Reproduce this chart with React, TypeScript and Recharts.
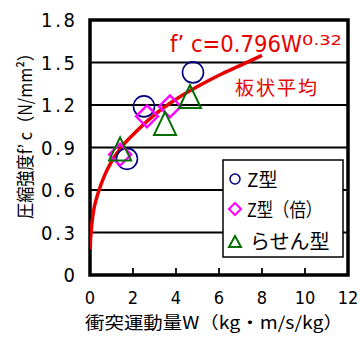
import React from 'react';
import {
  ComposedChart,
  Line,
  Scatter,
  XAxis,
  YAxis,
  CartesianGrid,
  ReferenceArea,
} from 'recharts';

const xTicks = [0, 2, 4, 6, 8, 10, 12];
const yTicks = [0, 0.3, 0.6, 0.9, 1.2, 1.5, 1.8];

// measured points
const zType = [
  { x: 1.72, y: 0.82 },
  { x: 2.51, y: 1.19 },
  { x: 4.79, y: 1.43 },
];
const zDouble = [
  { x: 1.4, y: 0.85 },
  { x: 2.65, y: 1.12 },
  { x: 3.72, y: 1.19 },
];
const spiral = [
  { x: 1.4, y: 0.89 },
  { x: 3.49, y: 1.07 },
  { x: 4.65, y: 1.26 },
];

// fitted curve f'c = 0.796 W^0.32
const fitCurve = [
  { x: 0.01, y: 0.18 },
  { x: 0.02, y: 0.23 },
  { x: 0.05, y: 0.3 },
  { x: 0.1, y: 0.38 },
  { x: 0.2, y: 0.48 },
  { x: 0.3, y: 0.54 },
  { x: 0.4, y: 0.59 },
  { x: 0.7, y: 0.71 },
  { x: 1, y: 0.8 },
  { x: 1.5, y: 0.91 },
  { x: 2, y: 0.99 },
  { x: 3, y: 1.13 },
  { x: 4, y: 1.24 },
  { x: 5, y: 1.33 },
  { x: 6, y: 1.41 },
  { x: 7, y: 1.48 },
  { x: 8, y: 1.55 },
];

const NAVY = '#00007f';
const MAGENTA = '#ff00ff';
const GREEN = '#006f00';
const RED = '#e60000';
const NUM_FONT = '"Liberation Sans Narrow", "DejaVu Sans Condensed", "Liberation Sans", sans-serif';
const JP_FONT = '"Noto Sans CJK JP", sans-serif';

const CircleShape = (props: any) => (
  <circle cx={props.cx} cy={props.cy} r={10.5} fill="none" stroke={NAVY} strokeWidth={1.6} />
);

const DiamondShape = (props: any) => {
  const { cx, cy } = props;
  const d = 11;
  return (
    <polygon
      points={`${cx},${cy - d} ${cx + d},${cy} ${cx},${cy + d} ${cx - d},${cy}`}
      fill="none"
      stroke={MAGENTA}
      strokeWidth={2.4}
    />
  );
};

const TriangleShape = (props: any) => {
  const { cx, cy } = props;
  return (
    <polygon
      points={`${cx},${cy - 11.5} ${cx + 11},${cy + 11.5} ${cx - 11},${cy + 11.5}`}
      fill="none"
      stroke={GREEN}
      strokeWidth={2}
    />
  );
};

const XTick = (props: any) => {
  const { x, payload } = props;
  return (
    <text x={x} y={304} textAnchor="middle" fontFamily={NUM_FONT} fontSize={18} fill="#000">
      {payload.value}
    </text>
  );
};

const YTick = (props: any) => {
  const { y, payload } = props;
  if (payload.value === 0) {
    return (
      <text x={75} y={y + 7} textAnchor="end" fontFamily={NUM_FONT} fontSize={20} fill="#000">
        0
      </text>
    );
  }
  return (
    <text
      x={75}
      y={y + 7}
      textAnchor="end"
      fontFamily={NUM_FONT}
      fontSize={20}
      fill="#000"
      textLength={34}
      lengthAdjust="spacing"
    >
      {payload.value.toFixed(1)}
    </text>
  );
};

export default function App() {
  return (
    <div style={{ position: 'absolute', left: 0, top: 0, width: 360, height: 345, background: '#fff' }}>
      <ComposedChart width={360} height={345} margin={{ top: 20, right: 12, left: 30, bottom: 40 }}>
        <CartesianGrid horizontal vertical={false} stroke="#000" strokeWidth={1.8} horizontalValues={[0.3, 0.6, 0.9, 1.2, 1.5]} />
        <XAxis
          type="number"
          dataKey="x"
          domain={[0, 12]}
          ticks={xTicks}
          axisLine={false}
          tickSize={-7}
          tickLine={{ stroke: '#000', strokeWidth: 1.8 }}
          tick={<XTick />}
          height={30}
          allowDataOverflow
        />
        <YAxis
          type="number"
          dataKey="y"
          domain={[0, 1.8]}
          ticks={yTicks}
          axisLine={false}
          tickLine={false}
          tick={<YTick />}
          width={60}
          allowDataOverflow
        />
        <ReferenceArea
          x1={0}
          x2={12}
          y1={0}
          y2={1.8}
          ifOverflow="visible"
          fill="none"
          stroke="#000"
          strokeWidth={3.5}
          fillOpacity={0}
        />
        <Scatter data={zType} dataKey="y" shape={<CircleShape />} isAnimationActive={false} />
        <Scatter data={zDouble} dataKey="y" shape={<DiamondShape />} isAnimationActive={false} />
        <Scatter data={spiral} dataKey="y" shape={<TriangleShape />} isAnimationActive={false} />
        <Line
          data={fitCurve}
          dataKey="y"
          type="monotone"
          stroke={RED}
          strokeWidth={3.5}
          dot={false}
          activeDot={false}
          isAnimationActive={false}
        />
      </ComposedChart>
      <svg width={360} height={345} style={{ position: 'absolute', left: 0, top: 0, pointerEvents: 'none' }}>
        {/* fitted formula */}
        <text x={170} y={52} fontFamily={NUM_FONT} fontSize={23} fill={RED} textLength={132} lengthAdjust="spacingAndGlyphs">
          f’ c=0.796W
        </text>
        <text x={302} y={45} fontFamily={NUM_FONT} fontSize={14} fill={RED} textLength={40} lengthAdjust="spacingAndGlyphs">
          0.32
        </text>
        <text x={235} y={95} fontFamily={JP_FONT} fontSize={19} fill={RED} textLength={82}>
          板状平均
        </text>
        {/* legend */}
        <rect x={223} y={160} width={120} height={97} fill="#fff" stroke="#000" strokeWidth={1.5} />
        <circle cx={235} cy={179} r={5} fill="none" stroke={NAVY} strokeWidth={1.5} />
        <text x={247} y={187} fontFamily={JP_FONT} fontSize={19} fill="#000">Z型</text>
        <polygon points="235,203 241,209 235,215 229,209" fill="none" stroke={MAGENTA} strokeWidth={2} />
        <text x={247} y={217} fontFamily={JP_FONT} fontSize={19} fill="#000" textLength={75} lengthAdjust="spacingAndGlyphs">Z型（倍）</text>
        <polygon points="235,236 241,247 229,247" fill="none" stroke={GREEN} strokeWidth={2} />
        <text x={250} y={249} fontFamily={JP_FONT} fontSize={20} fill="#000">らせん型</text>
        {/* axis titles */}
        <text x={85} y={329} fontFamily={JP_FONT} fontSize={17} fill="#000" textLength={258} lengthAdjust="spacingAndGlyphs">
          衝突運動量W（kg・m/s/kg）
        </text>
        <text
          x={0}
          y={0}
          transform="translate(32,132) rotate(-90)"
          textAnchor="middle"
          fontFamily={JP_FONT}
          fontSize={18}
          fill="#000"
          textLength={174}
          lengthAdjust="spacingAndGlyphs"
        >
          圧縮強度f’ c（N/mm²）
        </text>
      </svg>
    </div>
  );
}
